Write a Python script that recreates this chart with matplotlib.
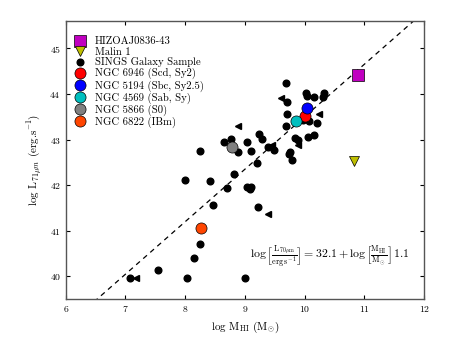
import matplotlib
matplotlib.use('Agg')
import matplotlib.pyplot as plt
import numpy as np

plt.rcParams['font.family'] = 'cmr10'
plt.rcParams['mathtext.fontset'] = 'cm'
plt.rcParams['axes.formatter.use_mathtext'] = True

# SINGS galaxy sample (detections)
sings_x = [7.08, 8.03, 9.00, 7.55, 8.15, 8.25, 8.46, 9.22, 7.99, 8.42, 8.70, 9.03,
           9.08, 9.11, 8.81, 9.20, 8.25, 8.89, 9.10, 9.49, 9.39, 8.65, 8.77, 9.03,
           9.23, 9.29, 9.75, 9.74, 9.78, 9.83, 9.89, 10.05, 10.15, 9.69, 10.08, 10.20,
           9.98, 9.70, 9.70, 10.03, 10.04, 10.15, 10.33, 10.30, 9.69]
sings_y = [39.97, 39.97, 39.97, 40.15, 40.41, 40.71, 41.56, 41.53, 42.12, 42.10, 41.93, 41.97,
           41.91, 41.95, 42.25, 42.48, 42.74, 42.73, 42.75, 42.77, 42.84, 42.94, 43.02, 42.94,
           43.13, 43.02, 42.73, 42.69, 42.56, 43.04, 42.98, 43.06, 43.11, 43.29, 43.40, 43.36,
           43.42, 43.57, 43.82, 44.01, 43.95, 43.93, 44.01, 43.93, 44.23]

# SINGS upper limits in HI mass
lim_x = [7.17, 9.38, 8.88, 9.46, 9.89, 10.24, 9.60]
lim_y = [39.97, 41.36, 43.29, 42.87, 42.87, 43.55, 43.92]

# named galaxies
named = ['NGC 6946 (Scd, Sy2)', 'NGC 5194 (Sbc, Sy2.5)', 'NGC 4569 (Sab, Sy)',
         'NGC 5866 (S0)', 'NGC 6822 (IBm)']
named_x = [10.01, 10.04, 9.86, 8.79, 8.27]
named_y = [43.51, 43.70, 43.40, 42.84, 41.06]
named_c = ['#ff0000', '#0000ff', '#00bfbf', '#808080', '#ff4500']

hizoa_x, hizoa_y = [10.89], [44.41]
malin_x, malin_y = [10.83], [42.54]

# dashed relation
fit_a, fit_b = 32.0, 1.15

fig = plt.figure(figsize=(4.63, 3.48), dpi=100)
ax = fig.add_axes([0.142, 0.14, 0.774, 0.8])

xx = np.array([6.0, 12.0])
ax.plot(xx, fit_a + fit_b * xx, 'k--', lw=0.9, dashes=(4, 3.5))

ax.plot(hizoa_x, hizoa_y, 's', color='#c000c0', mec='k', mew=0.5, ms=8.5,
        ls='none', label='HIZOAJ0836-43')
ax.plot(malin_x, malin_y, 'v', color='#bfbf00', mec='k', mew=0.5, ms=7,
        ls='none', label='Malin 1')
ax.plot(sings_x, sings_y, 'o', color='k', ms=4.8, ls='none',
        label='SINGS Galaxy Sample')
ax.plot(lim_x, lim_y, '<', color='k', ms=4.8, ls='none')
for n, x, y, c in zip(named, named_x, named_y, named_c):
    ax.plot([x], [y], 'o', color=c, mec='k', mew=0.5, ms=8, ls='none', label=n)

ax.set_xlim(6, 12)
ax.set_ylim(39.5, 45.6)
ax.set_xticks([6, 7, 8, 9, 10, 11, 12])
ax.set_yticks([40, 41, 42, 43, 44, 45])
ax.tick_params(direction='in', top=True, right=True, labelsize=7, length=3)
for s in ax.spines.values():
    s.set_linewidth(1.0)
    s.set_color('#555555')

ax.set_xlabel(r'log M$_{\rm HI}$ (M$_{\odot}$)', fontsize=8)
ax.set_ylabel(r'log L$_{71\mu m}$ (erg.s$^{-1}$)', fontsize=8)

ax.text(9.08, 40.42,
        r'$\log\left[\frac{\rm L_{70\mu m}}{\rm erg\,s^{-1}}\right] = 32.1 + \log\left[\frac{\rm M_{HI}}{\rm M_{\odot}}\right]\,1.1$',
        fontsize=8.5, va='center')

ax.legend(loc='upper left', bbox_to_anchor=(0.009, 0.958), frameon=False,
          fontsize=7.7, numpoints=1, handletextpad=0.85, labelspacing=0.07,
          borderaxespad=0.0, handlelength=1.2)

fig.savefig('out.png', dpi=100)
